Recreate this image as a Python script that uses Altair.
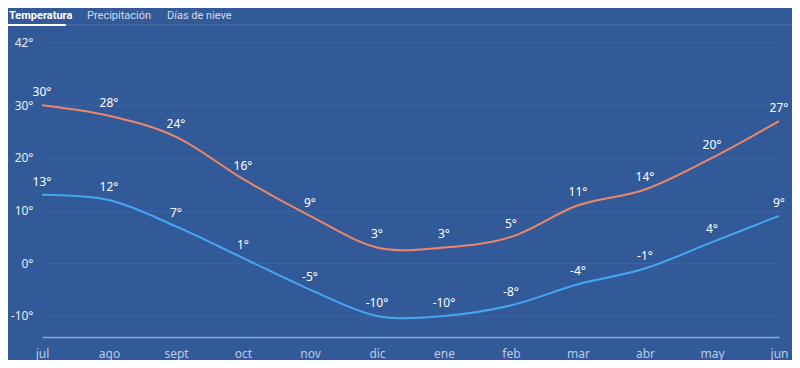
import altair as alt
import pandas as pd

months = ["jul", "ago", "sept", "oct", "nov", "dic", "ene", "feb", "mar", "abr", "may", "jun"]
max_temps = [30, 28, 24, 16, 9, 3, 3, 5, 11, 14, 20, 27]
min_temps = [13, 12, 7, 1, -5, -10, -10, -8, -4, -1, 4, 9]
y_ticks = [-10, 0, 10, 20, 30, 42]
tabs = ["Temperatura", "Precipitación", "Días de nieve"]

rows = []
for m, hi, lo in zip(months, max_temps, min_temps):
    rows.append({"mes": m, "serie": "max", "t": hi})
    rows.append({"mes": m, "serie": "min", "t": lo})
df = pd.DataFrame(rows)

FONT = "Noto Sans"
TAB_FONT = "Roboto"
BG = "#325a98"

x = alt.X("mes:O", sort=months, scale=alt.Scale(type="point", padding=0),
          axis=alt.Axis(title=None, labelAngle=0, ticks=False, grid=False,
                        domainColor="#8ea9d8", domainWidth=1.5,
                        labelColor="#b9cbe8", labelFontSize=12, labelFont=FONT,
                        labelPadding=11))
y = alt.Y("t:Q", scale=alt.Scale(domain=[-14, 42], nice=False, zero=False),
          axis=alt.Axis(title=None, values=y_ticks, labelExpr="datum.value + '°'",
                        ticks=False, domain=False, grid=True,
                        gridColor="#ffffff", gridOpacity=0.05,
                        labelColor="#e8eef8", labelFontSize=12, labelFont=FONT,
                        labelPadding=9))
color = alt.Color("serie:N", scale=alt.Scale(domain=["max", "min"], range=["#ee8768", "#45a6f2"]),
                  legend=None)

base = alt.Chart(df)
lines = base.mark_line(interpolate="cardinal", strokeWidth=2).encode(x=x, y=y, color=color)
labels = base.transform_calculate(lbl="datum.t + '°'").mark_text(
    dy=-13, fontSize=12, font=FONT, color="#ffffff"
).encode(x=x, y=y, text="lbl:N")

tab_layers = []
tab_x = [-33, 45, 125]
for i, (name, tx) in enumerate(zip(tabs, tab_x)):
    tab_layers.append(
        alt.Chart(pd.DataFrame({"a": [0]})).mark_text(
            align="left", baseline="alphabetic", fontSize=11, font=TAB_FONT,
            fontWeight="bold" if i == 0 else "normal",
            color="#ffffff" if i == 0 else "#d3dcec",
        ).encode(x=alt.value(tx), y=alt.value(-23), text=alt.value(name))
    )
sep = alt.Chart(pd.DataFrame({"a": [0]})).mark_rule(color="#ffffff", opacity=0.15, strokeWidth=1).encode(
    x=alt.value(-37), x2=alt.value(753), y=alt.value(-17))
underline = alt.Chart(pd.DataFrame({"a": [0]})).mark_rule(color="#ffffff", strokeWidth=2).encode(
    x=alt.value(-37), x2=alt.value(24), y=alt.value(-17))

chart = alt.layer(lines, labels, sep, underline, *tab_layers).properties(
    width=737, height=295,
    padding={"left": 34, "top": 34, "right": 13, "bottom": 23},
    autosize=alt.AutoSizeParams(type="none"),
    background=BG,
).configure_view(stroke=None)

chart.save("out.html", embed_options={"renderer": "svg", "actions": False})
